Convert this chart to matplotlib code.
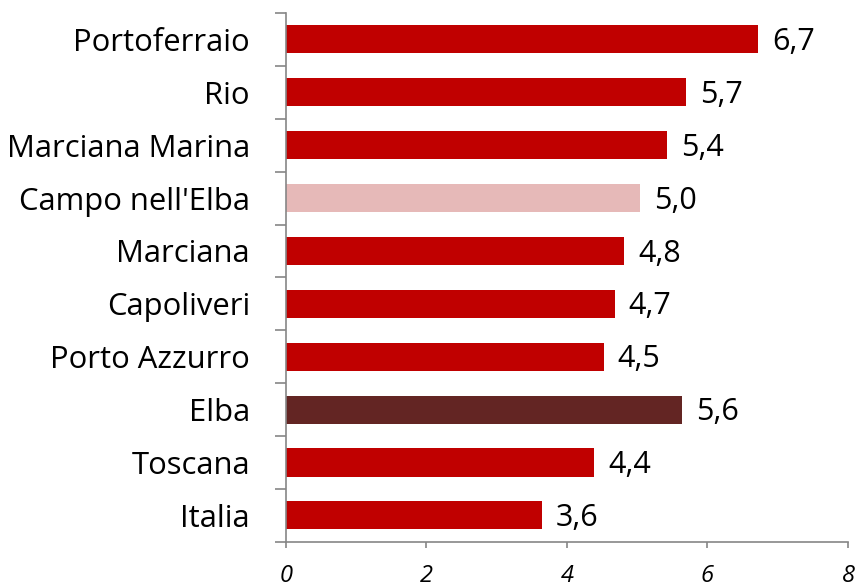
import numpy as np
import matplotlib.pyplot as plt

categories = ['Portoferraio', 'Rio', 'Marciana Marina', "Campo nell'Elba", 'Marciana',
              'Capoliveri', 'Porto Azzurro', 'Elba', 'Toscana', 'Italia']
values = [6.72, 5.70, 5.43, 5.04, 4.81, 4.68, 4.52, 5.64, 4.39, 3.64]
colors = ['#C00000', '#C00000', '#C00000', '#E6B9B8', '#C00000',
          '#C00000', '#C00000', '#632523', '#C00000', '#C00000']

plt.rcParams['font.family'] = ['Open Sans', 'DejaVu Sans']
axis_grey = '#868686'

fig = plt.figure(figsize=(8.55, 5.82), dpi=100)
ax = fig.add_axes([0.3345, 0.069, 0.6573, 0.9087])

y = np.arange(len(categories))
ax.barh(y, values, height=0.53, color=colors)
ax.set_ylim(len(categories) - 0.5, -0.5)
ax.set_xlim(0, 8)

for yi, v in zip(y, values):
    ax.text(v + 0.2, yi + 0.05, f"{v:.1f}".replace('.', ','), va='center', ha='left',
            fontsize=22, color='black')

ax.set_yticks(y)
ax.set_yticklabels(categories, fontsize=22.3)
ax.set_yticks(np.arange(-0.5, len(categories)), minor=True)
ax.tick_params(axis='y', which='major', length=0, pad=26)
ax.tick_params(axis='y', which='minor', length=8, color=axis_grey, width=1.2)

ax.set_xticks([0, 2, 4, 6, 8])
ax.set_xticklabels(['0', '2', '4', '6', '8'], fontsize=17, style='italic')
ax.tick_params(axis='x', length=4.5, color=axis_grey, width=1.2, pad=11.5, direction='out')

for side in ['top', 'right']:
    ax.spines[side].set_visible(False)
for side in ['left', 'bottom']:
    ax.spines[side].set_color(axis_grey)
    ax.spines[side].set_linewidth(1.2)

fig.savefig('out.png', dpi=100)
